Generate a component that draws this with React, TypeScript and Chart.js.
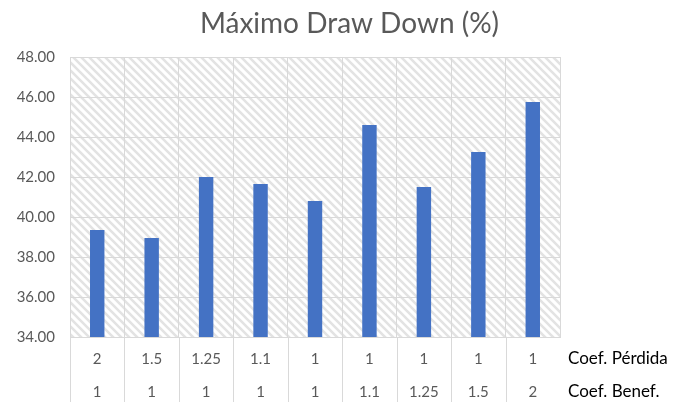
import React, { useEffect, useRef } from "react";
import { Chart, registerables } from "chart.js";

Chart.register(...registerables);

// Coefficient pairs per run (two-level category axis)
const coefPerdida = ["2", "1.5", "1.25", "1.1", "1", "1", "1", "1", "1"];
const coefBenef = ["1", "1", "1", "1", "1", "1.1", "1.25", "1.5", "2"];
const rowNames = ["Coef. Pérdida", "Coef. Benef."];

// Maximum draw down per run, in percent
const drawDown = [39.35, 38.95, 42.0, 41.65, 40.8, 44.6, 41.5, 43.25, 45.75];

const chartTitle = "Máximo Draw Down (%)";

const Y_MIN = 34;
const Y_MAX = 48;
const Y_STEP = 2;

const FONT = "Lato, 'Open Sans', sans-serif";
const GRID = "#d9d9d9";
const TEXT = "#595959";

function makeHatch(ctx: CanvasRenderingContext2D): CanvasPattern | string {
  const size = 8;
  const c = document.createElement("canvas");
  c.width = size;
  c.height = size;
  const p = c.getContext("2d");
  if (!p) return "#ffffff";
  p.fillStyle = "#ffffff";
  p.fillRect(0, 0, size, size);
  p.strokeStyle = "#e3e3e3";
  p.lineWidth = 2.6;
  p.beginPath();
  for (let k = -1; k <= 1; k++) {
    p.moveTo(k * size - 1, -1);
    p.lineTo(k * size + size + 1, size + 1);
  }
  p.stroke();
  return ctx.createPattern(c, "repeat") || "#ffffff";
}

const hatchBackground = {
  id: "hatchBackground",
  beforeDraw(chart: any) {
    const { ctx, chartArea } = chart;
    if (!chartArea) return;
    ctx.save();
    ctx.fillStyle = makeHatch(ctx);
    ctx.fillRect(
      chartArea.left,
      chartArea.top,
      chartArea.right - chartArea.left,
      chartArea.bottom - chartArea.top
    );
    ctx.restore();
  },
};

// Title centred over the whole canvas (including the row-name margin)
const centredTitle = {
  id: "centredTitle",
  afterDraw(chart: any) {
    const { ctx } = chart;
    ctx.save();
    ctx.fillStyle = TEXT;
    ctx.font = `28px ${FONT}`;
    ctx.textAlign = "center";
    ctx.textBaseline = "alphabetic";
    ctx.fillText(chartTitle, chart.width / 2 + 6, 33);
    ctx.restore();
  },
};

const multiLevelAxis = {
  id: "multiLevelAxis",
  afterDraw(chart: any) {
    const { ctx, chartArea, scales } = chart;
    const x = scales.x;
    const n = coefPerdida.length;
    const bottom = chart.height;
    ctx.save();

    // separators between categories, extending through the label rows
    ctx.strokeStyle = GRID;
    ctx.lineWidth = 1;
    for (let i = 0; i < n; i++) {
      const px =
        i === 0
          ? chartArea.left
          : (x.getPixelForValue(i - 1) + x.getPixelForValue(i)) / 2;
      const sx = Math.round(px) + 0.5;
      ctx.beginPath();
      ctx.moveTo(sx, chartArea.bottom);
      ctx.lineTo(sx, bottom);
      ctx.stroke();
    }

    const row1 = chartArea.bottom + 22;
    const row2 = chartArea.bottom + 55;

    ctx.fillStyle = TEXT;
    ctx.font = `15px ${FONT}`;
    ctx.textAlign = "center";
    ctx.textBaseline = "middle";
    for (let i = 0; i < n; i++) {
      const cx = x.getPixelForValue(i);
      ctx.fillText(coefPerdida[i], cx, row1);
      ctx.fillText(coefBenef[i], cx, row2);
    }

    ctx.fillStyle = "#000000";
    ctx.font = `17px ${FONT}`;
    ctx.textAlign = "left";
    ctx.fillText(rowNames[0], chartArea.right + 8, row1);
    ctx.fillText(rowNames[1], chartArea.right + 8, row2);
    ctx.restore();
  },
};

export default function App() {
  const canvasRef = useRef<HTMLCanvasElement | null>(null);

  useEffect(() => {
    const canvas = canvasRef.current;
    if (!canvas) return;
    const chart = new Chart(canvas, {
      type: "bar",
      data: {
        labels: coefPerdida.map((p, i) => `${p} / ${coefBenef[i]}`),
        datasets: [
          {
            data: drawDown,
            backgroundColor: "#4472c4",
            borderWidth: 0,
            barPercentage: 0.265,
            categoryPercentage: 1,
          },
        ],
      },
      options: {
        animation: false,
        responsive: false,
        maintainAspectRatio: false,
        devicePixelRatio: 1,
        layout: { padding: { left: 0, right: 127, top: 57, bottom: 0 } },
        plugins: {
          legend: { display: false },
          tooltip: { enabled: false },
          title: { display: false },
        },
        scales: {
          x: {
            grid: { color: GRID, drawTicks: false, offset: true },
            border: { color: GRID },
            ticks: { display: false },
            afterFit: (s: any) => {
              s.height = 65;
            },
          },
          y: {
            min: Y_MIN,
            max: Y_MAX,
            ticks: {
              stepSize: Y_STEP,
              color: TEXT,
              padding: 15,
              font: { family: FONT, size: 15 },
              callback: (v: any) => Number(v).toFixed(2),
            },
            grid: { color: GRID, drawTicks: false },
            border: { color: GRID },
            afterFit: (s: any) => {
              s.width = 70;
            },
          },
        },
      },
      plugins: [hatchBackground, multiLevelAxis, centredTitle],
    });
    return () => chart.destroy();
  }, []);

  return (
    <div style={{ position: "absolute", left: 0, top: 0, width: 687, height: 402, background: "#ffffff" }}>
      <canvas ref={canvasRef} width={687} height={402} />
    </div>
  );
}
